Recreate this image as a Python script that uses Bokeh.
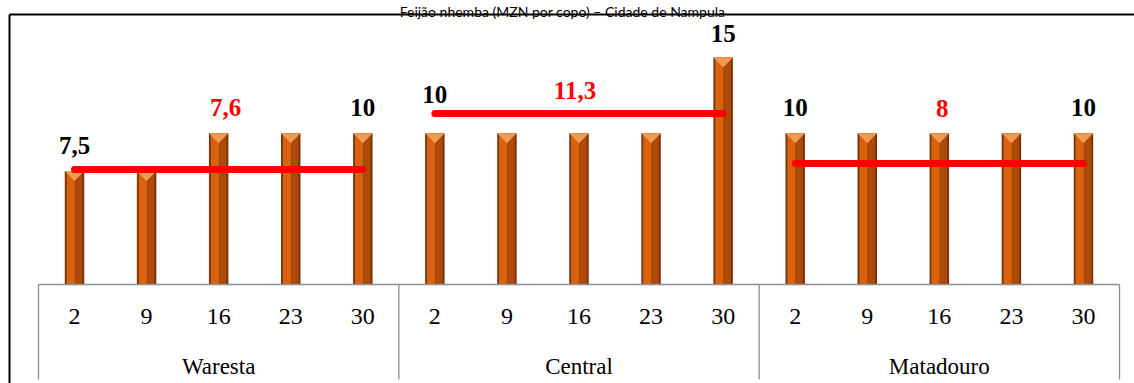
from bokeh.plotting import figure
from bokeh.models import Range1d, LinearAxis, FixedTicker, Label, ColumnDataSource
from bokeh.core.properties import value
from bokeh.embed import file_html
from bokeh.resources import INLINE

# ---- data -------------------------------------------------------------
title_text = "Feijão nhemba (MZN por copo) – Cidade de Nampula"
markets = ["Waresta", "Central", "Matadouro"]
days = ["2", "9", "16", "23", "30"]
waresta = [7.5, 7.5, 10, 10, 10]
central = [10, 10, 10, 10, 15]
matadouro = [10, 10, 10, 10, 10]
averages = [7.6, 11.3, 8]

# ---- layout -----------------------------------------------------------
W, H = 1134, 383
FL, FR, FB = 38, 1119, 284              # category band left/right, baseline (px)
PX_PER_UNIT = 15.13
n_days = len(days)
n_bars = len(markets) * n_days
PX_PER_CAT = (FR - FL) / n_bars

def dx(px):
    return (px - FL) / PX_PER_CAT

def dy(py):
    return (FB - py) / PX_PER_UNIT

BAR_W = 0.27
CAP_H = 10 / PX_PER_UNIT
LABEL_DY = [[26, 26], [39, 24], [26, 26]]   # lift of first / last value label (px)
AVG_DY = [62, 23, 55]                       # lift of average labels (px)
AVG_DX = [7, -4, 3]
AXIS_GREY = "#8f8f8f"
SERIF = "Liberation Serif"

def fmt(v):
    return f"{v:g}".replace(".", ",")

series = [waresta, central, matadouro]
vals = [v for s in series for v in s]
xc = [i + 0.5 for i in range(n_bars)]          # bar centres on the category scale

p = figure(width=W, height=H, title=None,
           x_range=Range1d(dx(0), dx(W)), y_range=Range1d(dy(H), dy(0)),
           x_axis_location=None, y_axis_location=None,
           output_backend="svg", toolbar_location=None,
           min_border_left=0, min_border_right=0, min_border_top=0, min_border_bottom=0)
p.outline_line_color = None
p.grid.visible = False
p.background_fill_color = "white"
p.border_fill_color = "white"

# day axis and market axis, both sitting on the zero line
day_ticks = xc
day_axis = LinearAxis(ticker=FixedTicker(ticks=day_ticks, minor_ticks=[]),
                      major_label_overrides={t: d for t, d in zip(day_ticks, days * len(markets))},
                      fixed_location=0, bounds=(0, n_bars))
day_axis.axis_line_color = AXIS_GREY
day_axis.axis_line_width = 1.3
day_axis.major_tick_line_color = None
day_axis.minor_tick_line_color = None
day_axis.major_label_text_font = SERIF
day_axis.major_label_text_font_size = "24px"
day_axis.major_label_text_color = "black"
day_axis.major_label_standoff = 18
p.add_layout(day_axis, "below")

mkt_ticks = [g * n_days + n_days / 2 for g in range(len(markets))]
mkt_axis = LinearAxis(ticker=FixedTicker(ticks=mkt_ticks, minor_ticks=[]),
                      major_label_overrides={t: m for t, m in zip(mkt_ticks, markets)},
                      fixed_location=0, bounds=(0, n_bars))
mkt_axis.axis_line_color = None
mkt_axis.major_tick_line_color = None
mkt_axis.minor_tick_line_color = None
mkt_axis.major_label_text_font = SERIF
mkt_axis.major_label_text_font_size = "23px"
mkt_axis.major_label_text_color = "black"
mkt_axis.major_label_standoff = 63
p.add_layout(mkt_axis, "below")

# market separators below the axis line
sep_x = [g * n_days for g in range(len(markets) + 1)]
p.segment(x0=sep_x, y0=[0] * len(sep_x), x1=sep_x, y1=[dy(379)] * len(sep_x),
          line_color=AXIS_GREY, line_width=1.3)

# bars: dark rim, lit left face, shaded right face, pyramid cap
src = ColumnDataSource(dict(x=xc, v=vals))
p.vbar(x="x", top="v", width=BAR_W, source=src, fill_color="#7a3208", line_color=None)
p.vbar(x=[c - 0.052 for c in xc], top=vals, width=0.115, fill_color="#d9620f", line_color=None)
p.vbar(x=[c + 0.058 for c in xc], top=vals, width=0.1, fill_color="#ad4909", line_color=None)
cap_xs = [[c - BAR_W / 2, c + BAR_W / 2, c] for c in xc]
cap_ys = [[v, v, v - CAP_H] for v in vals]
p.patches(cap_xs, cap_ys, fill_color="#f39a52", line_color=None)

# group average lines
for g, a in enumerate(averages):
    p.line(x=[xc[g * n_days], xc[g * n_days + n_days - 1]], y=[a, a],
           line_color="#ff0000", line_width=7, line_cap="round")

# value labels on first and last bar of each market
lx, ly, lt, loff = [], [], [], []
for g, (s, lift) in enumerate(zip(series, LABEL_DY)):
    for j, k in enumerate((0, n_days - 1)):
        lx.append(xc[g * n_days + k]); ly.append(s[k]); lt.append(fmt(s[k])); loff.append(-lift[j])
p.text(x=lx, y=ly, text=lt, y_offset=loff, text_font=value(SERIF),
       text_font_style="bold", text_font_size="25px", text_color="black",
       text_align="center", text_baseline="middle")

# average labels over the middle bar
p.text(x=[xc[g * n_days + n_days // 2] for g in range(len(markets))], y=averages,
       text=[fmt(a) for a in averages], x_offset=AVG_DX, y_offset=[-d for d in AVG_DY],
       text_font=value(SERIF), text_font_style="bold", text_font_size="25px",
       text_color="#ff0000", text_align="center", text_baseline="middle")

# chart border (top and left edges)
p.segment(x0=[dx(9), dx(9)], y0=[dy(14), dy(14)], x1=[dx(W + 5), dx(9)], y1=[dy(14), dy(H + 5)],
          line_color="black", line_width=2)

# title above the border
p.add_layout(Label(x=dx(562), y=dy(10.5), text=title_text,
                   text_align="center", text_baseline="alphabetic",
                   text_font="Lato", text_font_size="14px", text_color="black"))

open("out.html", "w").write(file_html(p, INLINE))
